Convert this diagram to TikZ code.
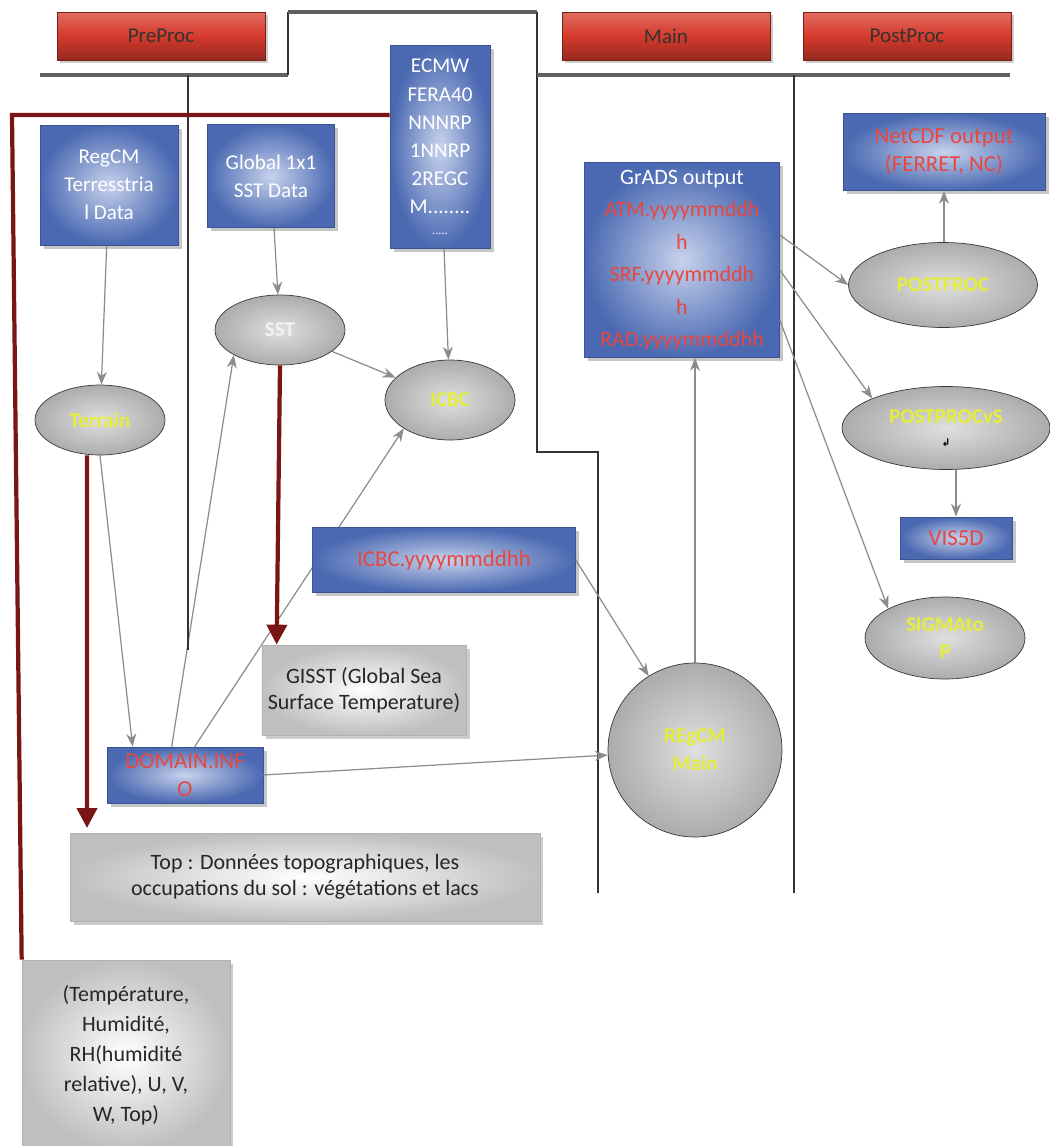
\documentclass[tikz,border=0pt]{standalone}
\usepackage{fontspec}
\setmainfont{Carlito}
\newfontfamily\symfont{DejaVu Sans}
\usetikzlibrary{arrows.meta,shapes,positioning,shadows,calc,backgrounds}

\definecolor{hdrred}{HTML}{D63A2C}
\definecolor{boxblue}{HTML}{4A69B2}
\definecolor{boxpale}{HTML}{C7D2EC}
\definecolor{filered}{HTML}{E8473F}
\definecolor{ovaltext}{HTML}{E4EE3A}
\definecolor{darkred}{HTML}{7A1515}
\definecolor{linkgray}{HTML}{8C8C8C}

\tikzset{
  hdr/.style={rectangle, draw=hdrred!55!black, shade, top color=hdrred!75,
    bottom color=hdrred!70!black, middle color=hdrred, minimum width=4.16cm,
    minimum height=0.96cm, font=\fontsize{12}{14}\selectfont, text=black!80,
    drop shadow={shadow xshift=1.5pt, shadow yshift=-1.5pt, opacity=0.4}},
  databox/.style={rectangle, draw=boxblue!80!black, shade, inner color=boxpale,
    outer color=boxblue, align=center, text=white,
    font=\fontsize{12}{16}\selectfont, inner sep=2pt,
    drop shadow={shadow xshift=2pt, shadow yshift=-2pt, opacity=0.45}},
  filebox/.style={databox, text=filered, font=\fontsize{13}{16}\selectfont},
  oval/.style={ellipse, draw=gray!45!black, shade, inner color=gray!25,
    outer color=gray!65, align=center, text=ovaltext,
    font=\fontsize{12}{15}\selectfont\bfseries, inner sep=0pt},
  notebox/.style={rectangle, draw=gray!60, shade, inner color=white,
    outer color=gray!50, align=center, text=black!85,
    font=\fontsize{12.5}{15}\selectfont,
    drop shadow={shadow xshift=2pt, shadow yshift=-2pt, opacity=0.4}},
  link/.style={draw=linkgray, line width=0.7pt, -{Stealth[length=2.6mm,width=2mm]}},
  redlink/.style={draw=darkred, line width=2.4pt},
  redarrow/.style={redlink, -{Triangle[length=4mm,width=4mm]}},
  divider/.style={draw=black!80, line width=1pt},
  topline/.style={draw=gray!75!black, line width=2pt}
}

\begin{document}
\begin{tikzpicture}[x=0.02cm, y=-0.02cm]
\useasboundingbox (0,0) rectangle (1050,1146);

% section separators
\draw[topline] (40,75) -- (288,75);
\draw[divider] (288,75) -- (288,12);
\draw[topline] (288,12) -- (537,12);
\draw[divider] (537,12) -- (537,452) -- (598,452) -- (598,893);
\draw[topline] (537,75) -- (1010,75);
\draw[divider] (188,75) -- (188,650);
\draw[divider] (794,75) -- (794,893);

% headers
\node[hdr] (preproc) at (161,36) {PreProc};
\node[hdr] (mainhdr) at (666,36) {Main};
\node[hdr] (postprochdr) at (907,36) {PostProc};

% input data
\node[databox, minimum width=2.76cm, minimum height=2.4cm] (terrdata) at (109,185)
  {RegCM\\Terresstria\\l Data};
\node[databox, minimum width=2.54cm, minimum height=2.06cm] (sstdata) at (271,176)
  {Global 1x1\\SST Data};
\node[databox, minimum width=2.0cm, minimum height=4.06cm] (ecmw) at (440,147)
  {ECMW\\FERA40\\NNNRP\\1NNRP\\2REGC\\M........\\[-4pt]{\fontsize{7}{8}\selectfont.....}};

% preprocessing
\node[oval, minimum width=2.6cm, minimum height=1.4cm, text=gray!10] (sst) at (280,330) {SST};
\node[oval, minimum width=2.6cm, minimum height=1.4cm] (terrain) at (100,420) {Terrain};
\node[oval, minimum width=2.6cm, minimum height=1.6cm] (icbc) at (450,400) {ICBC};
\node[filebox, minimum width=5.26cm, minimum height=1.3cm] (icbcout) at (444,560)
  {ICBC.yyyymmddhh};
\node[filebox, minimum width=3.12cm, minimum height=1.12cm] (domain) at (185,775)
  {DOMAIN.INF\\O};

% notes
\node[notebox, minimum width=3.04cm, minimum height=1.8cm] (gisst) at (364,690)
  {GISST (Global Sea\\Surface Temperature)};
\node[notebox, minimum width=9.4cm, minimum height=1.76cm] (topo) at (305,877)
  {Top : Données topographiques, les\\occupations du sol : végétations et lacs};
\node[notebox, minimum width=4.16cm, minimum height=3.8cm,
  font=\fontsize{12.5}{17}\selectfont] (meteo) at (126,1055)
  {(Température,\\Humidité,\\RH(humidité\\relative), U, V,\\W, Top)};

% main
\node[circle, draw=gray!45!black, shade, inner color=gray!25, outer color=gray!65,
  minimum size=3.48cm, align=center, text=ovaltext,
  font=\fontsize{12}{16}\selectfont\bfseries] (regcm) at (695,750) {REgCM\\Main};
\node[filebox, minimum width=3.9cm, minimum height=3.9cm,
  font=\fontsize{12.5}{18.5}\selectfont] (grads) at (682,260)
  {{\color{white}\fontsize{12.5}{16}\selectfont GrADS output}\\ATM.yyyymmddh\\h\\SRF.yyyymmddh\\h\\RAD.yyyymmddhh};

% postprocessing
\node[filebox, minimum width=4.04cm, minimum height=1.54cm] (netcdf) at (944,152)
  {NetCDF output\\(FERRET, NC)};
\node[oval, minimum width=3.78cm, minimum height=1.7cm] (postproc) at (943,285) {POSTFROC};
\node[oval, minimum width=4.16cm, minimum height=1.66cm] (postprocvs) at (946,428)
  {POSTPROCvS\\[-2pt]{\symfont\color{black}\fontsize{6}{7}\selectfont ↲}};
\node[filebox, minimum width=2.24cm, minimum height=0.84cm] (vis) at (956,538) {VIS5D};
\node[oval, minimum width=3.2cm, minimum height=1.64cm] (sigmatop) at (945,638) {SIGMAto\\P};

\coordinate (redcorner) at (12,115);
\coordinate (toparrow) at (87,828);

\begin{scope}[on background layer]
\draw[link] (terrdata) -- (terrain);
\draw[link] (sstdata) -- (sst);
\draw[link] (ecmw) -- (icbc);
\draw[link] (sst) -- (icbc);
\draw[link] (terrain.south) -- ([xshift=0.52cm]domain.north west);
\draw[link] ([xshift=1.3cm]domain.north west) -- (sst.south west);
\draw[link] ([xshift=1.76cm]domain.north west) -- (icbc.south west);
\end{scope}
\draw[link] (domain.east) -- (regcm);
\draw[link] (icbcout.east) -- (regcm);
\draw[link] (regcm.north) -- (regcm.north |- grads.south);
\draw[link] (grads.east |- 0,235) -- (postproc.west);
\draw[link] (grads.east |- 0,270) -- (postprocvs.north west);
\draw[link] (grads.east |- 0,320) -- (sigmatop.north west);
\draw[link] (postproc.north -| netcdf.south) -- (netcdf.south);
\draw[link] (postprocvs.south -| vis.north) -- (vis.north);

% dark red links
\draw[redarrow] ([xshift=-0.26cm]terrain.south) -- (toparrow);
\draw[redarrow] (sst.south) -- ([xshift=0.3cm]gisst.north west);
\draw[redlink] (ecmw.west |- redcorner) -- (redcorner) -- (meteo.north west);
\end{tikzpicture}
\end{document}
